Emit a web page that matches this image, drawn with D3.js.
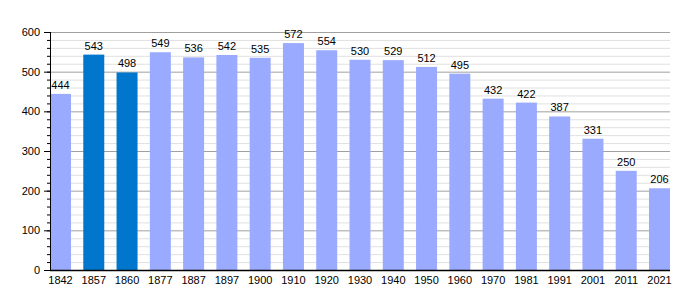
<!DOCTYPE html>
<html>
<head>
<meta charset="utf-8">
<script src="https://cdn.jsdelivr.net/npm/d3@7"></script>
<style>
  body { margin: 0; background: #fff; }
  svg text { font-family: "Liberation Sans", Arial, sans-serif; }
</style>
</head>
<body>
<script>
// population by census year
const years = ["1842","1857","1860","1877","1887","1897","1900","1910","1920","1930","1940","1950","1960","1970","1981","1991","2001","2011","2021"]
const population = [444,543,498,549,536,542,535,572,554,530,529,512,495,432,422,387,331,250,206]
const highlighted = ["1857","1860"]
const yTicks = [0,100,200,300,400,500,600]

const width = 700
const height = 300
const margin = ({top: 32, right: 30, bottom: 30, left: 50})

const x = d3.scaleBand()
    .domain(years)
    .range([margin.left, width - margin.right])
    .paddingInner(0.369)
    .paddingOuter(0)

const y = d3.scaleLinear()
    .domain([0, 600])
    .range([height - margin.bottom, margin.top])

const svg = d3.select("body").append("svg")
    .attr("width", width)
    .attr("height", height)

// grid: minor every 20, major every 100
svg.append("g")
  .selectAll("line")
  .data(d3.range(20, 601, 20))
  .join("line")
    .attr("x1", margin.left)
    .attr("x2", width - margin.right)
    .attr("y1", d => y(d) + 0.5)
    .attr("y2", d => y(d) + 0.5)
    .attr("stroke", d => d % 100 === 0 ? "#a0a0a0" : "#e0e0e0")
    .attr("stroke-width", 1)

svg.append("g")
  .selectAll("rect")
  .data(population)
  .join("rect")
    .attr("x", (d, i) => x(years[i]))
    .attr("y", d => y(d))
    .attr("width", x.bandwidth())
    .attr("height", d => y(0) - y(d))
    .attr("fill", (d, i) => highlighted.includes(years[i]) ? "#0077cc" : "#99aaff")

svg.append("g")
  .selectAll("text")
  .data(population)
  .join("text")
    .attr("x", (d, i) => x(years[i]) + x.bandwidth() / 2)
    .attr("y", d => y(d) - 5)
    .attr("text-anchor", "middle")
    .attr("font-size", 11)
    .attr("fill", "#000")
    .text(d => d)

// y axis with minor ticks
const yAxis = svg.append("g")
    .attr("transform", `translate(${margin.left},0)`)
yAxis.call(d3.axisLeft(y).tickValues(d3.range(0, 601, 20)).tickSize(3).tickFormat(""))
yAxis.call(g => g.selectAll(".tick line").attr("stroke", "#000"))
yAxis.call(g => g.select(".domain").remove())

svg.append("g")
    .attr("transform", `translate(${margin.left},0)`)
    .call(d3.axisLeft(y).tickValues(yTicks).tickSize(6).tickPadding(4))
    .call(g => g.select(".domain").attr("d", `M0.5,${y(600)}V${y(0)}`))
    .call(g => g.selectAll("text").attr("font-size", 11).attr("fill", "#000").style("font-family", "Liberation Sans, Arial, sans-serif"))

svg.append("g")
    .attr("transform", `translate(0,${y(0)})`)
    .call(d3.axisBottom(x).tickSize(0).tickPadding(6))
    .call(g => g.select(".domain").attr("d", `M${margin.left},0.5H${width - margin.right}`).attr("stroke-width", 1.5))
    .call(g => g.selectAll("text").attr("font-size", 11).attr("fill", "#000").style("font-family", "Liberation Sans, Arial, sans-serif"))
</script>
</body>
</html>
